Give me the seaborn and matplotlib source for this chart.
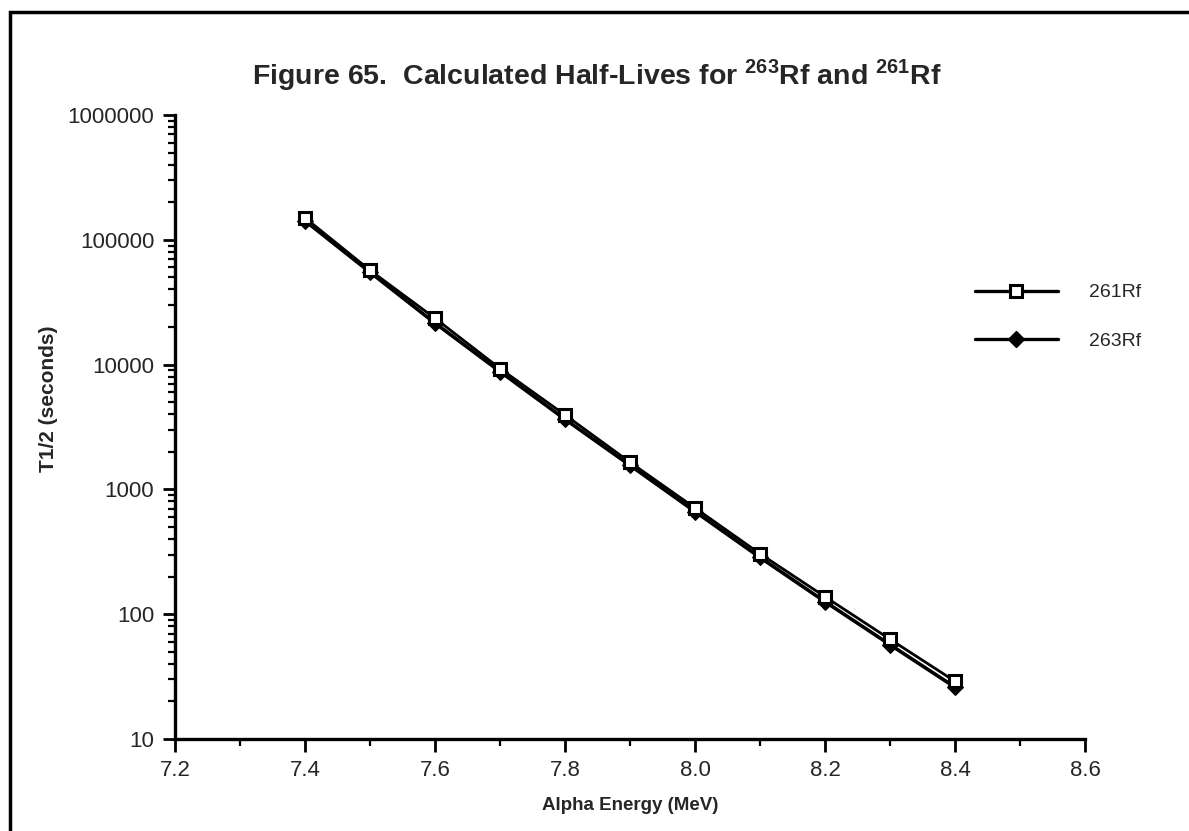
import matplotlib
matplotlib.use('Agg')
import matplotlib.pyplot as plt
from matplotlib.lines import Line2D
from matplotlib.patches import Rectangle
from matplotlib.ticker import LogLocator, MultipleLocator, FixedLocator, NullFormatter
import seaborn as sns
import pandas as pd

# alpha energies (MeV) and calculated half-lives (s)
energy = [7.4, 7.5, 7.6, 7.7, 7.8, 7.9, 8.0, 8.1, 8.2, 8.3, 8.4]
rf261 = [150000, 57000, 23500, 9300, 3950, 1650, 710, 305, 138, 63, 29]
rf263 = [142000, 55000, 21500, 8800, 3650, 1560, 665, 285, 126, 57, 26]
y_ticks = [10, 100, 1000, 10000, 100000, 1000000]
x_ticks = [7.2, 7.4, 7.6, 7.8, 8.0, 8.2, 8.4, 8.6]

df261 = pd.DataFrame({'energy': energy, 'thalf': rf261})
df263 = pd.DataFrame({'energy': energy, 'thalf': rf263})

sns.set_style('ticks')
plt.rcParams['font.family'] = ['Liberation Sans', 'DejaVu Sans']
plt.rcParams['mathtext.fontset'] = 'custom'
plt.rcParams['mathtext.rm'] = 'Liberation Sans'
plt.rcParams['mathtext.bf'] = 'Liberation Sans:bold'

fig = plt.figure(figsize=(11.89, 8.31), dpi=100)
ax = fig.add_axes([175 / 1189, 1 - 739 / 831, 910 / 1189, 624 / 831])

sns.lineplot(data=df263, x='energy', y='thalf', ax=ax, color='black', lw=2.6,
             marker='D', markersize=8, mfc='black', mec='black', zorder=3)
sns.lineplot(data=df261, x='energy', y='thalf', ax=ax, color='black', lw=2.0,
             marker='s', markersize=8, mfc='white', mec='black', mew=2.2, zorder=4)

ax.set_yscale('log')
ax.set_xlim(7.2, 8.6)
ax.set_ylim(10, 1000000)
ax.xaxis.set_major_locator(FixedLocator(x_ticks))
ax.set_xticklabels(['%.1f' % v for v in x_ticks])
ax.xaxis.set_minor_locator(MultipleLocator(0.1))
ax.yaxis.set_major_locator(FixedLocator(y_ticks))
ax.set_yticklabels([str(v) for v in y_ticks])
ax.yaxis.set_minor_locator(LogLocator(base=10, subs=range(2, 10)))
ax.yaxis.set_minor_formatter(NullFormatter())

ax.tick_params(axis='both', which='major', length=9, width=2, labelsize=16, pad=6, color='black')
ax.tick_params(axis='both', which='minor', length=5, width=1.6, color='black')
for side in ['left', 'bottom']:
    ax.spines[side].set_linewidth(2.4)
    ax.spines[side].set_color('black')
sns.despine(ax=ax)

ax.set_xlabel('Alpha Energy (MeV)', fontsize=13.5, fontweight='bold', labelpad=12)
ax.set_ylabel('T1/2 (seconds)', fontsize=15, fontweight='bold')
ax.yaxis.set_label_coords(-0.129, 0.545)

fig.text(0.502, 1 - 75 / 831, r'Figure 65.  Calculated Half-Lives for $^{\mathbf{263}}$Rf and $^{\mathbf{261}}$Rf',
         ha='center', va='center', fontsize=20.5, fontweight='bold')

handles = [
    Line2D([], [], color='black', lw=2.4, marker='s', markersize=8, mfc='white', mec='black', mew=2.2),
    Line2D([], [], color='black', lw=2.4, marker='D', markersize=8, mfc='black', mec='black'),
]
fig.legend(handles, ['261Rf', '263Rf'], loc='center left',
           bbox_to_anchor=(957 / 1189, 1 - 317 / 831), frameon=False,
           handlelength=4.3, handletextpad=1.6, labelspacing=1.6, fontsize=14)

# outer frame of the scanned page
fig.patches.append(Rectangle((10 / 1189, -0.05), 1.2, 1 - 12 / 831 + 0.05,
                             transform=fig.transFigure, fill=False, lw=2.5,
                             edgecolor='black'))

fig.savefig('out.png', dpi=100)
